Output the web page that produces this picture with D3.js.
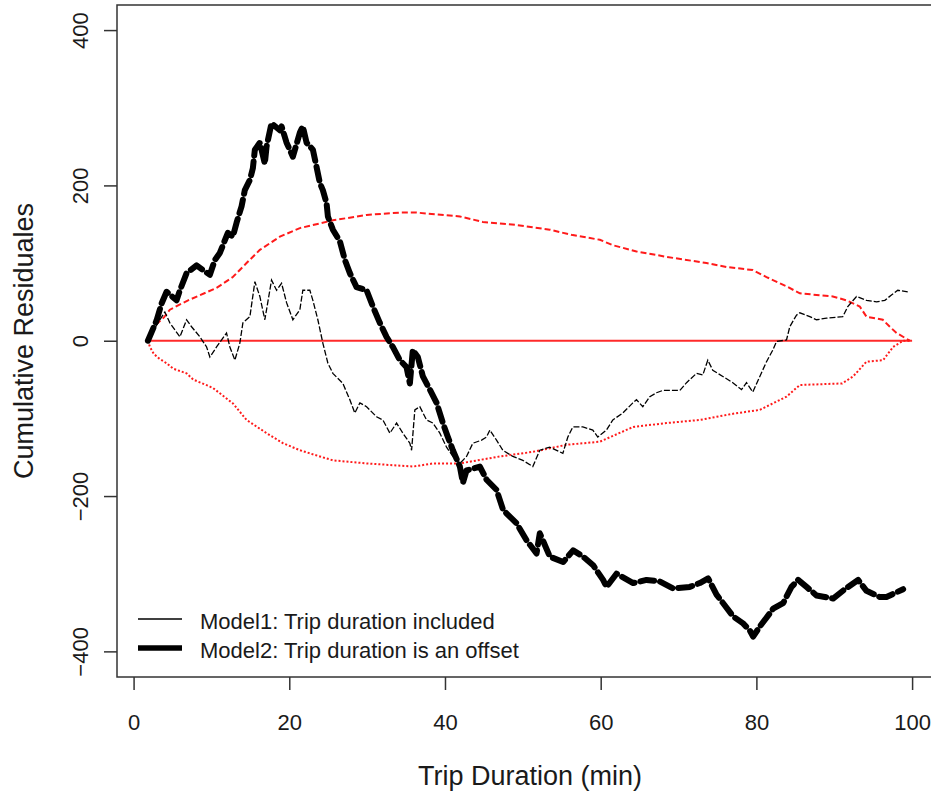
<!DOCTYPE html>
<html lang="en">
<head>
<meta charset="UTF-8" />
<title>Cumulative Residuales</title>
<script src="https://cdnjs.cloudflare.com/ajax/libs/d3/7.8.5/d3.min.js"></script>
<style>
  * { margin: 0; padding: 0; box-sizing: border-box; }
  body { background: #fff; width: 931px; height: 793px; overflow: hidden; }
  svg { display: block; font-family: "Liberation Sans", Arial, sans-serif; }
  .tick-label { font-size: 22px; fill: #1a1a1a; }
  .axis-title { font-size: 27px; fill: #1a1a1a; }
  .legend-text { font-size: 22px; fill: #1a1a1a; }
</style>
</head>
<body>
<svg id="chart" width="931" height="793"></svg>
<script>
  // ---- data: [trip duration, cumulative residual] ----
  const xTicks = [0, 20, 40, 60, 80, 100];
  const yTicks = [-400, -200, 0, 200, 400];

  const zeroLine = [[1.84, 0], [100, 0]];

  const upperBand = [
    [1.84, 0], [2.3, 10], [3.0, 22], [3.9, 30], [4.66, 40], [7.0, 52],
    [10.66, 68], [12.75, 82], [14.51, 100], [16.22, 117], [18.79, 134],
    [21.36, 145], [25.6, 155], [29.93, 162], [34.2, 165], [36.35, 165],
    [41.91, 160], [44.86, 153], [49.19, 149], [53.46, 143], [56.42, 136],
    [59.89, 130], [61.56, 123], [64.6, 115], [68.46, 108], [73.59, 100],
    [76.16, 95], [79.54, 91], [81.3, 82], [83.87, 70], [85.58, 61],
    [89.82, 57], [91.58, 52], [93.28, 44], [94.14, 31], [96.24, 27],
    [97.14, 18], [98.0, 10], [99.7, 0]
  ];

  const lowerBand = [
    [1.84, 0], [2.1, -8], [2.6, -17], [3.3, -23], [4.24, -29], [5.09, -36],
    [6.81, -42], [7.66, -50], [9.8, -59], [10.22, -61], [12.79, -81],
    [14.51, -102], [17.08, -119], [19.21, -132], [21.36, -141], [23.93, -149],
    [25.6, -154], [29.93, -158], [35.91, -162], [38.48, -158], [41.91, -158],
    [47.05, -149], [51.32, -143], [55.61, -134], [59.89, -130], [64.17, -111],
    [68.46, -106], [72.74, -102], [77.01, -94], [80.44, -89], [83.87, -72],
    [85.58, -57], [91.02, -55], [92.42, -46], [94.14, -27], [96.28, -25],
    [97.56, -8], [98.85, 0], [99.7, 0]
  ];

  const model1 = [
    [1.84, 0], [3.12, 23], [4.02, 37], [4.66, 23], [5.95, 5], [6.81, 27],
    [7.45, 18], [8.52, 5], [9.38, -8], [9.8, -21], [10.66, -8], [11.94, 10],
    [12.37, -8], [13.01, -25], [13.65, -3], [14.04, 23], [14.94, 31],
    [15.58, 76], [16.22, 57], [16.86, 27], [17.72, 78], [18.37, 65],
    [19.01, 74], [19.65, 49], [20.46, 27], [21.36, 40], [21.74, 65],
    [22.64, 65], [23.03, 52], [23.67, 27], [24.31, -3], [24.96, -29],
    [25.6, -42], [26.88, -55], [27.78, -76], [28.42, -93], [29.07, -80],
    [29.93, -85], [31.21, -98], [32.02, -102], [32.92, -119], [33.78, -106],
    [34.59, -119], [35.49, -132], [35.71, -141], [36.13, -89], [36.77, -85],
    [37.63, -102], [38.44, -106], [39.34, -119], [40.2, -137], [41.01, -149],
    [41.91, -158], [42.77, -149], [43.58, -132], [44.7, -128], [45.34, -124],
    [45.76, -115], [46.62, -128], [47.43, -141], [48.72, -149], [50.0, -154],
    [51.28, -162], [52.18, -141], [53.46, -137], [55.14, -145], [55.78, -124],
    [56.42, -111], [57.71, -111], [58.99, -115], [59.63, -124], [60.75, -115],
    [61.56, -102], [62.85, -93], [64.13, -80], [64.6, -76], [65.41, -85],
    [66.31, -72], [67.17, -67], [67.98, -64], [69.27, -64], [70.17, -64],
    [71.03, -54], [72.31, -42], [73.12, -44], [73.76, -25], [74.4, -38],
    [75.69, -46], [76.97, -54], [78.09, -63], [78.73, -54], [79.54, -66],
    [80.44, -46], [81.3, -27], [82.11, -12], [82.58, -1], [83.87, 1],
    [84.29, 18], [85.15, 33], [85.58, 36], [86.86, 31], [87.72, 27],
    [89.01, 29], [91.1, 31], [91.74, 44], [92.86, 57], [94.14, 52],
    [95.43, 50], [96.5, 52], [97.35, 59], [98.16, 65], [99.44, 63]
  ];

  const model2 = [
    [1.84, 0], [2.95, 26], [3.6, 48], [4.24, 63], [5.52, 52], [5.95, 65],
    [6.81, 87], [8.09, 97], [8.9, 91], [9.8, 85], [10.44, 104], [11.08, 113],
    [12.11, 139], [12.75, 134], [13.23, 152], [13.87, 173], [14.29, 194],
    [14.94, 207], [15.32, 222], [15.58, 246], [16.22, 255], [16.86, 228],
    [17.08, 250], [17.72, 280], [18.79, 271], [19.01, 276], [19.65, 255],
    [20.46, 237], [21.36, 268], [21.74, 276], [22.22, 255], [23.03, 246],
    [23.5, 224], [23.93, 203], [24.31, 194], [24.79, 177], [24.96, 160],
    [25.6, 143], [26.5, 128], [27.14, 104], [27.78, 87], [28.64, 69],
    [29.93, 65], [30.74, 44], [31.63, 23], [32.49, 5], [33.3, -8],
    [34.2, -25], [35.06, -34], [35.49, -55], [35.87, -12], [36.51, -21],
    [37.16, -46], [38.06, -63], [38.92, -80], [39.73, -106], [40.37, -124],
    [41.01, -141], [41.91, -162], [42.3, -183], [42.77, -167], [44.48, -162],
    [45.34, -179], [46.62, -192], [47.47, -218], [49.19, -235], [50.48, -257],
    [51.76, -274], [52.18, -248], [53.47, -278], [55.18, -285], [56.46, -270],
    [57.74, -278], [59.03, -289], [60.31, -308], [60.75, -317], [62.03, -300],
    [64.17, -312], [65.89, -308], [67.6, -310], [69.3, -319], [71.44, -317],
    [72.73, -312], [73.8, -306], [74.88, -327], [75.73, -338], [77.01, -355],
    [78.29, -364], [79.15, -373], [79.58, -381], [80.44, -368], [81.72, -351],
    [82.15, -345], [83.43, -338], [84.51, -317], [85.36, -308], [86.44, -317],
    [87.72, -328], [89.85, -332], [91.36, -320], [93.06, -308], [94.14, -322],
    [95.85, -330], [96.71, -330], [98.85, -320]
  ];

  const legendItems = [
    { label: "Model1: Trip duration included", width: 1.3 },
    { label: "Model2: Trip duration is an offset", width: 5.5 }
  ];

  // ---- layout ----
  const svg = d3.select("#chart");
  const box = { left: 117, top: 5, right: 943, bottom: 677 };

  const x = d3.scaleLinear().domain([-2.13, 103.97]).range([box.left, box.right]);
  const y = d3.scaleLinear().domain([-433, 432.3]).range([box.bottom, box.top]);

  const line = d3.line().x(d => x(d[0])).y(d => y(d[1]));

  // plot frame
  svg.append("rect")
    .attr("x", box.left).attr("y", box.top)
    .attr("width", box.right - box.left).attr("height", box.bottom - box.top)
    .attr("fill", "none").attr("stroke", "#333").attr("stroke-width", 1.5);

  // x axis
  const xAxis = svg.append("g").attr("transform", `translate(0,${box.bottom})`)
    .call(d3.axisBottom(x).tickValues(xTicks).tickSize(13).tickSizeOuter(0));
  xAxis.select(".domain").remove();
  xAxis.selectAll("line").attr("stroke", "#333").attr("stroke-width", 1.5);
  xAxis.selectAll("text").attr("class", "tick-label").attr("font-size", null)
    .attr("font-family", null).attr("fill", null).attr("dy", null).attr("y", 53);

  // y axis (labels rotated like R's default)
  const yAxis = svg.append("g").attr("transform", `translate(${box.left},0)`)
    .call(d3.axisLeft(y).tickValues(yTicks).tickSize(13).tickSizeOuter(0));
  yAxis.select(".domain").remove();
  yAxis.selectAll("line").attr("stroke", "#333").attr("stroke-width", 1.5);
  yAxis.selectAll("text").attr("class", "tick-label").attr("font-size", null)
    .attr("font-family", null).attr("fill", null)
    .attr("x", null).attr("dy", null)
    .attr("text-anchor", "middle")
    .attr("transform", "translate(-29,0) rotate(-90)");

  // axis titles
  svg.append("text").attr("class", "axis-title")
    .attr("x", (box.left + box.right) / 2).attr("y", 785)
    .attr("text-anchor", "middle").text("Trip Duration (min)");
  svg.append("text").attr("class", "axis-title")
    .attr("transform", `translate(33,${(box.top + box.bottom) / 2}) rotate(-90)`)
    .attr("text-anchor", "middle").text("Cumulative Residuales");

  // reference lines
  svg.append("path").datum(zeroLine).attr("d", line)
    .attr("fill", "none").attr("stroke", "#ff2a2a").attr("stroke-width", 1.8);
  svg.append("path").datum(upperBand).attr("d", line)
    .attr("fill", "none").attr("stroke", "#ff1a1a").attr("stroke-width", 2)
    .attr("stroke-dasharray", "6,3");
  svg.append("path").datum(lowerBand).attr("d", line)
    .attr("fill", "none").attr("stroke", "#ff1a1a").attr("stroke-width", 2)
    .attr("stroke-dasharray", "2,2");

  // model curves
  svg.append("path").datum(model1).attr("d", line)
    .attr("fill", "none").attr("stroke", "#000").attr("stroke-width", 1.3)
    .attr("stroke-dasharray", "6,2");
  svg.append("path").datum(model2).attr("d", line)
    .attr("fill", "none").attr("stroke", "#000").attr("stroke-width", 6)
    .attr("stroke-linecap", "round").attr("stroke-linejoin", "round")
    .attr("stroke-dasharray", "14,6");

  // legend
  const legend = svg.append("g").selectAll("g").data(legendItems).enter().append("g")
    .attr("transform", (d, i) => `translate(138,${619 + i * 29})`);
  legend.append("line")
    .attr("x1", 0).attr("x2", 44).attr("y1", 0).attr("y2", 0)
    .attr("stroke", "#000").attr("stroke-width", d => d.width);
  legend.append("text").attr("class", "legend-text")
    .attr("x", 62).attr("y", 10).text(d => d.label);
</script>
</body>
</html>
